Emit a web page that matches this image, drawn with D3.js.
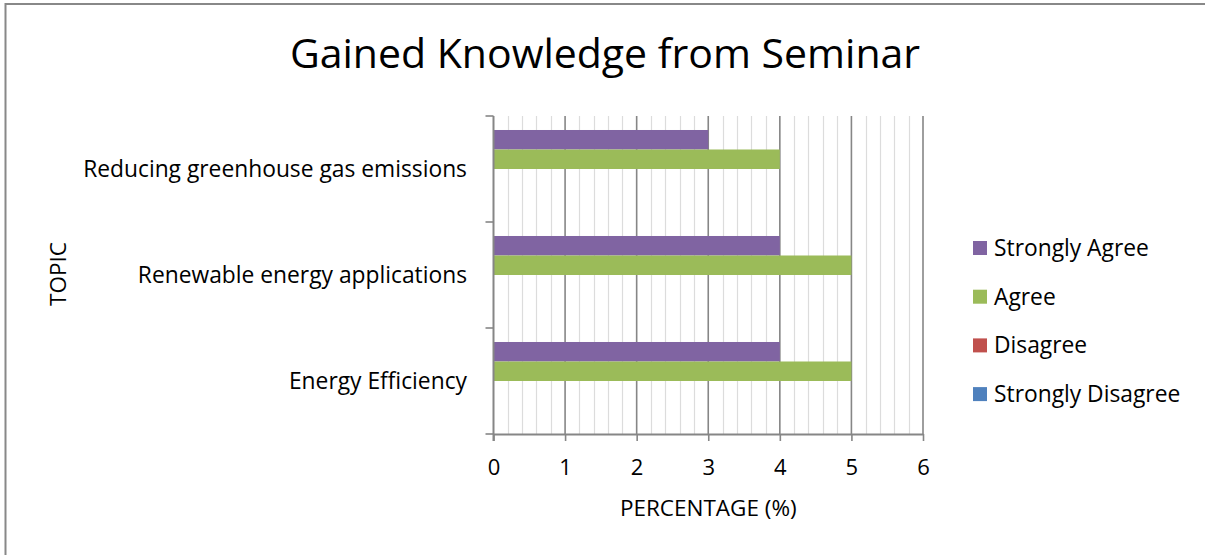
<!DOCTYPE html>
<html>
<head>
<meta charset="utf-8">
<script src="https://cdn.jsdelivr.net/npm/d3@7"></script>
<style>
  body { margin: 0; background: #fff; overflow: hidden; }
  text { font-family: "Open Sans", sans-serif; fill: #000; }
</style>
</head>
<body>
<div id="chart"></div>
<script>
// Gained Knowledge from Seminar - clustered horizontal bars

var topics = ["Reducing greenhouse gas emissions", "Renewable energy applications", "Energy Efficiency"];
var seriesNames = ["Strongly Agree", "Agree", "Disagree", "Strongly Disagree"];
var seriesColors = ["#8064A2", "#9BBB59", "#C0504D", "#4F81BD"];
var stronglyAgree = [3, 4, 4];
var agree = [4, 5, 5];
var disagree = [0, 0, 0];
var stronglyDisagree = [0, 0, 0];
var xTicks = [0, 1, 2, 3, 4, 5, 6];

var width = 1205, height = 555;
var plot = { left: 493.5, right: 923, top: 116, bottom: 434 };
var fontFamily = '"Open Sans", sans-serif';

var seriesValues = [stronglyAgree, agree, disagree, stronglyDisagree];

var svg = d3.select("#chart").append("svg")
    .attr("width", width)
    .attr("height", height)
    .style("display", "block");

// outer frame (right and bottom edges fall outside the picture)
svg.append("rect")
    .attr("x", 5.5)
    .attr("y", 4)
    .attr("width", width + 20)
    .attr("height", height + 20)
    .style("fill", "#fff")
    .style("stroke", "#888")
    .style("stroke-width", 2);

var x = d3.scaleLinear()
    .domain([0, 6])
    .range([plot.left, plot.right]);

var y = d3.scaleBand()
    .domain(topics)
    .range([plot.top, plot.bottom])
    .paddingInner(0.264)
    .paddingOuter(0.132);

var ySub = d3.scaleBand()
    .domain(seriesNames)
    .range([0, y.bandwidth()]);

// minor gridlines every 0.2
var minor = d3.range(0, 6.0001, 0.2).filter(function(d) { return Math.abs(d - Math.round(d)) > 0.01; });
svg.append("g").selectAll("line")
    .data(minor)
  .enter().append("line")
    .attr("x1", function(d) { return Math.round(x(d)) + 0.5; })
    .attr("x2", function(d) { return Math.round(x(d)) + 0.5; })
    .attr("y1", plot.top)
    .attr("y2", plot.bottom)
    .style("stroke", "#dcdcdc")
    .style("stroke-width", 1.2);

// major gridlines
svg.append("g").selectAll("line")
    .data(xTicks.slice(1))
  .enter().append("line")
    .attr("x1", function(d) { return x(d); })
    .attr("x2", function(d) { return x(d); })
    .attr("y1", plot.top)
    .attr("y2", plot.bottom)
    .style("stroke", "#868686")
    .style("stroke-width", 1.6);

// bars
var groups = svg.append("g").selectAll("g")
    .data(topics)
  .enter().append("g")
    .attr("transform", function(d) { return "translate(0," + y(d) + ")"; });

groups.selectAll("rect")
    .data(function(d, i) {
      return seriesNames.map(function(s, j) {
        return { series: s, value: seriesValues[j][i], color: seriesColors[j] };
      });
    })
  .enter().append("rect")
    .attr("x", x(0))
    .attr("y", function(d) { return ySub(d.series); })
    .attr("width", function(d) { return x(d.value) - x(0); })
    .attr("height", ySub.bandwidth())
    .style("fill", function(d) { return d.color; });

// x axis
var xAxis = svg.append("g")
    .attr("transform", "translate(0," + plot.bottom + ")")
    .call(d3.axisBottom(x).tickValues(xTicks).tickFormat(d3.format("d")).tickSize(7).tickSizeOuter(0).tickPadding(18));
xAxis.select(".domain").style("stroke", "#868686").style("stroke-width", 2);
xAxis.selectAll(".tick line").style("stroke", "#868686").style("stroke-width", 1.6);
xAxis.selectAll(".tick text")
    .style("font-family", fontFamily)
    .style("font-size", "22px")
    .style("fill", "#000");

// y axis: line + ticks at category boundaries
var bounds = topics.map(function(t) { return y(t) - y.step() * y.paddingInner() / 2; });
bounds.push(plot.bottom);
svg.append("line")
    .attr("x1", plot.left).attr("x2", plot.left)
    .attr("y1", plot.top).attr("y2", plot.bottom + 7)
    .style("stroke", "#868686")
    .style("stroke-width", 2);
svg.append("g").selectAll("line")
    .data(bounds)
  .enter().append("line")
    .attr("x1", plot.left - 8).attr("x2", plot.left)
    .attr("y1", function(d) { return d; })
    .attr("y2", function(d) { return d; })
    .style("stroke", "#868686")
    .style("stroke-width", 1.6);

svg.append("g").selectAll("text")
    .data(topics)
  .enter().append("text")
    .attr("x", 467)
    .attr("y", function(d) { return y(d) + y.bandwidth() / 2; })
    .attr("dy", "0.35em")
    .style("text-anchor", "end")
    .style("font-size", "22.8px")
    .text(function(d) { return d; });

// titles
svg.append("text")
    .attr("x", 605)
    .attr("y", 68)
    .style("text-anchor", "middle")
    .style("font-size", "41px")
    .text("Gained Knowledge from Seminar");

svg.append("text")
    .attr("transform", "translate(66,274) rotate(-90)")
    .style("text-anchor", "middle")
    .style("font-size", "22.5px")
    .text("TOPIC");

svg.append("text")
    .attr("x", (plot.left + plot.right) / 2)
    .attr("y", 516)
    .style("text-anchor", "middle")
    .style("font-size", "22.5px")
    .text("PERCENTAGE (%)");

// legend
var legend = svg.append("g").selectAll("g")
    .data(seriesNames)
  .enter().append("g")
    .attr("transform", function(d, i) { return "translate(973," + (248 + i * 48.7) + ")"; });

legend.append("rect")
    .attr("x", 0)
    .attr("y", -7)
    .attr("width", 14)
    .attr("height", 14)
    .style("fill", function(d, i) { return seriesColors[i]; });

legend.append("text")
    .attr("x", 21)
    .attr("y", 0)
    .attr("dy", "0.35em")
    .style("font-size", "22.8px")
    .text(function(d) { return d; });
</script>
</body>
</html>
